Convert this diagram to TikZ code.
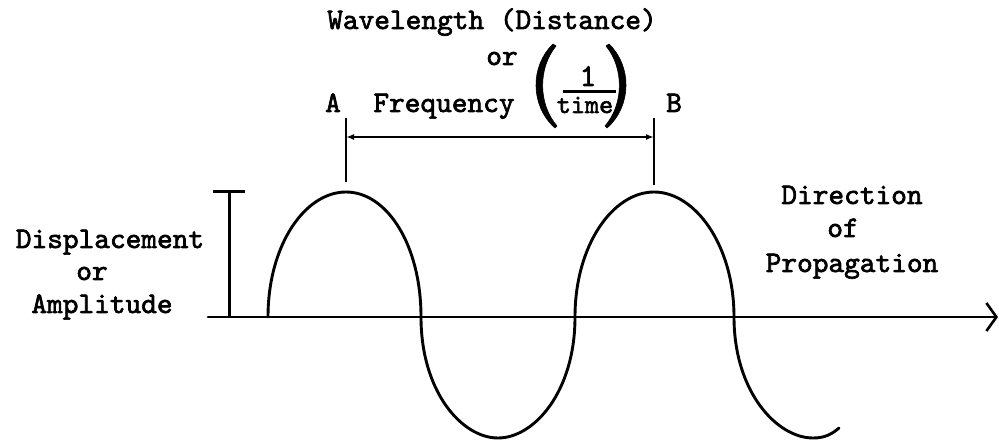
\documentclass[tikz,border=0pt]{standalone}
\usepackage{fontspec}
\newfontfamily\twfont[Extension=.otf, FakeBold=2.2]{lmmono10-regular}
\usetikzlibrary{arrows.meta}
\begin{document}
\begin{tikzpicture}[x=1bp,y=-1bp,
  lbl/.style={font=\twfont\fontsize{30}{33}\selectfont, inner sep=0pt, anchor=base},
  fracl/.style={font=\twfont\fontsize{27}{30}\selectfont, inner sep=0pt, anchor=base},
  wave/.style={line width=2.9bp, line cap=round, line join=round},
  bar/.style={line width=3bp},
  dim/.style={line width=2.4bp},
  parenfill/.style={fill=black, draw=black, line width=0.6bp},
]
\useasboundingbox (0,0) rectangle (999,442);

% labels
\node[lbl] (wl)   at (492,29)  {Wavelength (Distance)};
\node[lbl] (or1)  at (502,65)  {or};
\node[lbl] (A)    at (333,112) {A};
\node[lbl] (freq) at (444,112) {Frequency};
\node[fracl, font=\twfont\fontsize{32}{34}\selectfont] (one) at (588,86) {1};
\node[fracl] (time) at (585,113) {time};
\node[lbl] (B)    at (674,112) {B};
\node[lbl] (disp) at (110,248) {Displacement};
\node[lbl] (or2)  at (92,280)  {or};
\node[lbl] (ampl) at (102,313) {Amplitude};
\node[lbl] (dir)  at (852,204) {Direction};
\node[lbl] (of)   at (843,237) {of};
\node[lbl] (prop) at (852,272) {Propagation};

% fraction rule and parentheses
\coordinate (fruleL) at (563,91.5);
\coordinate (fruleR) at (616,91.5);
\draw[line width=2.2bp] (fruleL) -- (fruleR);
\filldraw[parenfill] (553,44) .. controls (530,66) and (530,106) .. (555,128)
  -- (557,126) .. controls (538,104) and (538,68) .. (556,46) -- cycle;
\filldraw[parenfill] (609,44) .. controls (632,66) and (632,106) .. (607,128)
  -- (605,126) .. controls (624,104) and (624,68) .. (606,46) -- cycle;

% axis
\coordinate (axL) at (208,317);
\coordinate (axR) at (998,317);
\draw[wave,-{Straight Barb[length=10bp,width=28bp,line width=2.6bp]}] (axL) -- (axR);

% amplitude bar
\coordinate (amB)  at (229,317);
\coordinate (amT)  at (229,192);
\coordinate (amTL) at (213,192);
\coordinate (amTR) at (245,192);
\draw[bar] (amB) -- (amT);
\draw[bar] (amTL) -- (amTR);

% wavelength dimension line
\coordinate (dA1) at (346,118);
\coordinate (dA2) at (346,182);
\coordinate (dB1) at (654,118);
\coordinate (dB2) at (654,185);
\coordinate (dAm) at (346,137);
\coordinate (dBm) at (654,137);
\draw[dim] (dA1) -- (dA2);
\draw[dim] (dB1) -- (dB2);
\draw[dim,{Latex[length=8bp,width=6bp]}-{Latex[length=8bp,width=6bp]}] (dAm) -- (dBm);

% wave
\draw[wave] (268,317) .. controls (268,245) and (305,192) .. (346,192)
  .. controls (387,192) and (421,245) .. (421,317)
  .. controls (421,392) and (462,438) .. (498,438)
  .. controls (534,438) and (575,392) .. (575,317)
  .. controls (575,245) and (613,192) .. (654,192)
  .. controls (695,192) and (734,245) .. (734,317)
  .. controls (734,392) and (777,438) .. (813,438)
  .. controls (825,438) and (832,434) .. (839,428);
\end{tikzpicture}
\end{document}
